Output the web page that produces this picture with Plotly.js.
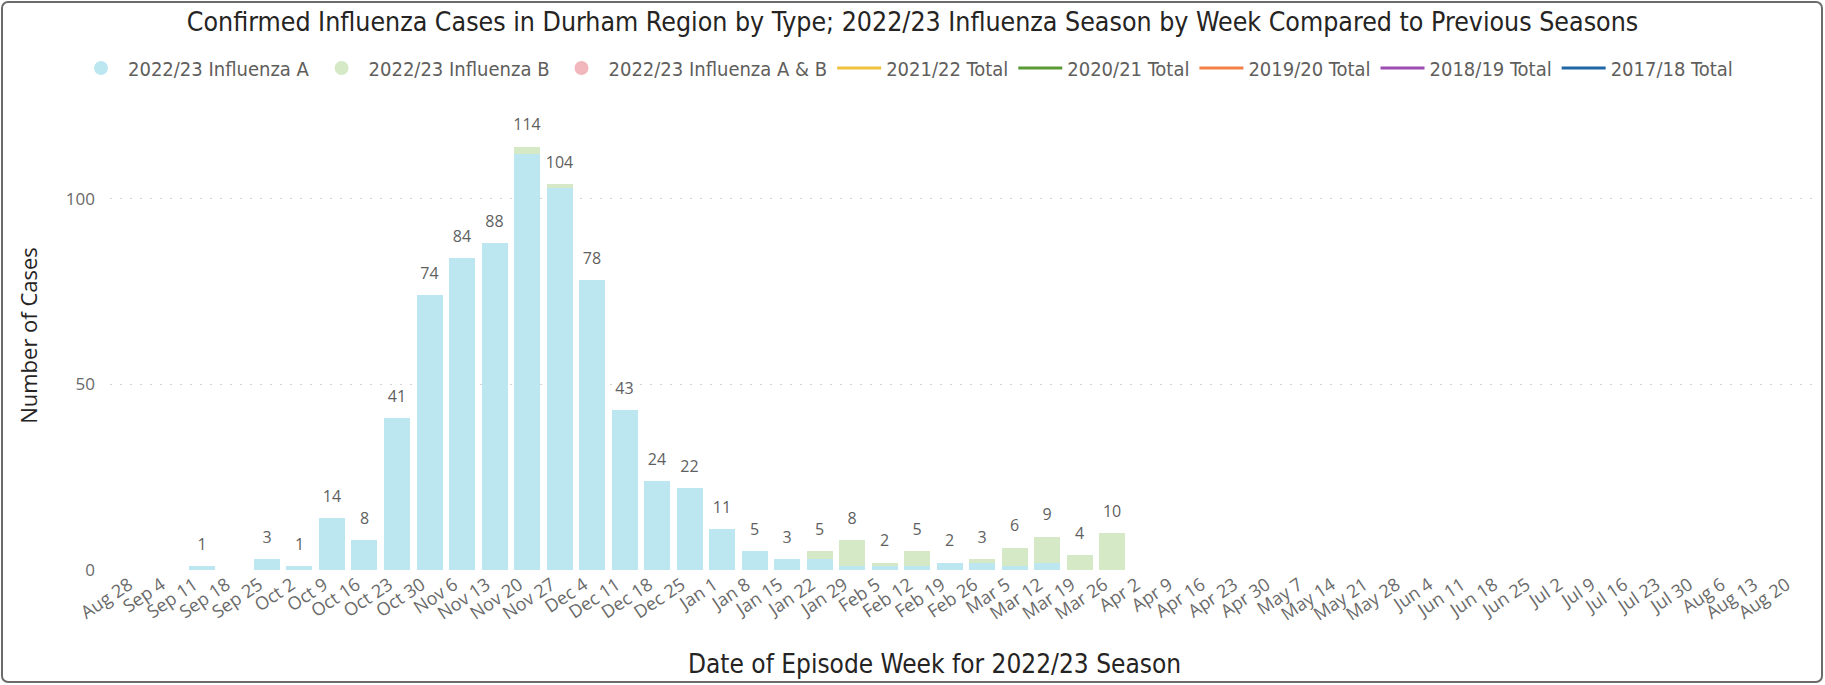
<!DOCTYPE html>
<html>
<head>
<meta charset="utf-8">
<script src="https://cdn.plot.ly/plotly-3.0.1.min.js"></script>
<style>
  html, body { margin: 0; padding: 0; background: #ffffff; }
  #wrap { position: relative; width: 1825px; height: 685px; }
  #chart { width: 1825px; height: 685px; }
  #frame { position: absolute; left: 1px; top: 1px; width: 1822px; height: 682px; box-sizing: border-box;
           border: 2px solid #6b6b6b; border-radius: 7px; pointer-events: none; }
</style>
</head>
<body>
<div id="wrap">
  <div id="chart"></div>
  <div id="frame"></div>
</div>
<script>
// Week start dates (episode week) for the 2022/23 season
const weeks = ['Aug 28','Sep 4','Sep 11','Sep 18','Sep 25','Oct 2','Oct 9','Oct 16','Oct 23','Oct 30',
  'Nov 6','Nov 13','Nov 20','Nov 27','Dec 4','Dec 11','Dec 18','Dec 25','Jan 1','Jan 8','Jan 15',
  'Jan 22','Jan 29','Feb 5','Feb 12','Feb 19','Feb 26','Mar 5','Mar 12','Mar 19','Mar 26',
  'Apr 2','Apr 9','Apr 16','Apr 23','Apr 30','May 7','May 14','May 21','May 28','Jun 4','Jun 11',
  'Jun 18','Jun 25','Jul 2','Jul 9','Jul 16','Jul 23','Jul 30','Aug 6','Aug 13','Aug 20'];

// 2022/23 cases by type (weeks Aug 28 .. Mar 26)
const influenzaA  = [0,0,1,0,3,1,14,8,41,74,84,88,112,103,78,43,24,22,11,5,3,3,1,1,1,2,2,1,2,0,0];
const influenzaB  = [0,0,0,0,0,0,0,0,0,0,0,0,2,1,0,0,0,0,0,0,0,2,7,1,4,0,1,5,7,4,10];
const influenzaAB = [0,0,0,0,0,0,0,0,0,0,0,0,0,0,0,0,0,0,0,0,0,0,0,0,0,0,0,0,0,0,0];

// Previous seasons' totals (no values are drawn on the chart)
const total2122 = [null];
const total2021 = [null];
const total1920 = [null];
const total1819 = [null];
const total1718 = [null];

const colA = '#BDE7F0', colB = '#D6E9C6', colAB = '#F2B6BD';
const lineCols = ['#F2C23E', '#5A9B36', '#F28048', '#9C4DB4', '#1F67A6'];

const barWeeks = weeks.slice(0, influenzaA.length);
const totals = influenzaA.map((v, i) => v + influenzaB[i] + influenzaAB[i]);
const totalText = totals.map(v => v > 0 ? String(v) : '');

const traces = [];
// legend swatches for the bar series (circles, as in the original)
[['2022/23 Influenza A', colA], ['2022/23 Influenza B', colB], ['2022/23 Influenza A & B', colAB]].forEach(([n, c]) => {
  traces.push({ type: 'scatter', mode: 'markers', name: n, x: [weeks[0]], y: [null], legendgroup: n,
    marker: { color: c, size: 14, symbol: 'circle' }, hoverinfo: 'skip' });
});
// previous seasons lines
[['2021/22 Total', total2122], ['2020/21 Total', total2021], ['2019/20 Total', total1920],
 ['2018/19 Total', total1819], ['2017/18 Total', total1718]].forEach(([n, d], k) => {
  traces.push({ type: 'scatter', mode: 'lines', name: n, x: weeks.slice(0, d.length), y: d,
    line: { color: lineCols[k], width: 3 } });
});
// stacked bars
traces.push({ type: 'bar', name: '2022/23 Influenza A', x: barWeeks, y: influenzaA, marker: { color: colA }, showlegend: false, legendgroup: '2022/23 Influenza A' });
traces.push({ type: 'bar', name: '2022/23 Influenza B', x: barWeeks, y: influenzaB, marker: { color: colB }, showlegend: false, legendgroup: '2022/23 Influenza B' });
traces.push({ type: 'bar', name: '2022/23 Influenza A & B', x: barWeeks, y: influenzaAB, marker: { color: colAB }, showlegend: false, legendgroup: '2022/23 Influenza A & B' });
// total data labels
traces.push({ type: 'scatter', mode: 'markers+text', x: barWeeks, y: totals, text: totalText,
  textposition: 'top center', cliponaxis: false, showlegend: false, hoverinfo: 'skip',
  marker: { size: 18, color: 'rgba(0,0,0,0)' },
  textfont: { family: 'Open Sans, sans-serif', size: 16, color: '#5f5f5f' } });

const layout = {
  width: 1825, height: 685,
  paper_bgcolor: '#ffffff', plot_bgcolor: '#ffffff',
  margin: { l: 110, r: 7, t: 101, b: 115 },
  barmode: 'stack', bargap: 0.2,
  title: { text: 'Confirmed Influenza Cases in Durham Region by Type; 2022/23 Influenza Season by Week Compared to Previous Seasons',
    x: 0.5, xanchor: 'center', y: 1 - 22/685, yanchor: 'middle',
    font: { family: 'DejaVu Sans Condensed, sans-serif', size: 26.5, color: '#252423' } },
  legend: { orientation: 'h', x: (906 - 110) / 1708, xanchor: 'center', y: (570 - 68) / 469, yanchor: 'middle',
    font: { family: 'DejaVu Sans Condensed, sans-serif', size: 20, color: '#605E5C' },
    traceorder: 'normal', itemwidth: 44, bgcolor: 'rgba(0,0,0,0)' },
  xaxis: {
    type: 'category', categoryorder: 'array', categoryarray: weeks,
    range: [-0.83, 51.72], tickangle: -34,
    tickfont: { family: 'Open Sans, sans-serif', size: 18, color: '#6a6a6a' },
    showgrid: false, zeroline: false, showline: false, ticks: '',
    ticklabelshift: -8
  },
  yaxis: {
    range: [0, 126.3], tickvals: [0, 50, 100],
    tickfont: { family: 'Open Sans, sans-serif', size: 17, color: '#6a6a6a' },
    showgrid: true, gridcolor: '#d4d4d4', griddash: '2px,8px', gridwidth: 1,
    zeroline: false, showline: false, ticks: '', ticklabelstandoff: 14,
    title: { text: 'Number of Cases', standoff: 22,
      font: { family: 'Open Sans, sans-serif', size: 22, color: '#252423' } }
  },
  annotations: [{
    text: 'Date of Episode Week for 2022/23 Season', showarrow: false,
    xref: 'paper', yref: 'paper', x: (934 - 110) / 1708, y: (570 - 664) / 469,
    xanchor: 'center', yanchor: 'middle',
    font: { family: 'DejaVu Sans Condensed, sans-serif', size: 26, color: '#252423' }
  }],
  showlegend: true
};

Plotly.newPlot('chart', traces, layout, { displayModeBar: false, staticPlot: true });
</script>
</body>
</html>
